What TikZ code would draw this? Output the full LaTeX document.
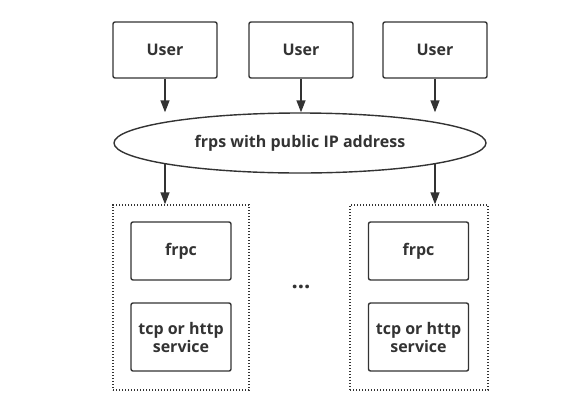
\documentclass[tikz,border=0pt]{standalone}
\usepackage{fontspec}
\setmainfont{Open Sans}
\usetikzlibrary{arrows.meta,shapes.geometric,positioning}
\definecolor{ink}{HTML}{333333}
\begin{document}
\begin{tikzpicture}[x=1pt,y=-1pt,
  every node/.style={text=ink,font=\bfseries\fontsize{16}{18}\selectfont},
  box/.style={draw=ink,line width=1.4pt,rounded corners=2pt,inner sep=0pt,align=center},
  user/.style={box,minimum width=104pt,minimum height=56pt},
  inner/.style={box,minimum width=100pt},
  frps/.style={draw=ink,line width=1.4pt,ellipse,inner sep=0pt,minimum width=372pt,minimum height=60pt},
  host/.style={draw=ink,line width=1.4pt,dash pattern=on 1.4pt off 1.6pt,inner sep=0pt,minimum height=185pt},
  arr/.style={draw=ink,line width=1.4pt,-{Triangle[length=12pt,width=9pt]}}]
\useasboundingbox (0,0) rectangle (572,405);
% users
\node [user] (u1) at (165,50) {User};
\node [user] (u2) at (301,50) {User};
\node [user] (u3) at (435,50) {User};
% server
\node [frps] (s) at (300,143) {frps with public IP address};
% clients
\node [host,minimum width=136pt] (h1) at (181,297.5) {};
\node [host,minimum width=138pt] (h2) at (419,297.5) {};
\node [inner,minimum height=58pt] (c1) at (181,251) {frpc};
\node [inner,minimum height=68pt] (t1) at (181,337) {tcp or http\\service};
\node [inner,minimum height=58pt] (c2) at (418.5,251) {frpc};
\node [inner,minimum height=68pt] (t2) at (418.5,337) {tcp or http\\service};
\node [font=\bfseries\fontsize{22}{22}\selectfont] (dots) at (301,287) {...};
% connectors
\draw[arr] (u1) -- (u1 |- s.north);
\draw[arr] (u2) -- (u2 |- s.north);
\draw[arr] (u3) -- (u3 |- s.north);
\draw[arr] (u1 |- s.189) -- (u1 |- h1.north);
\draw[arr] (u3 |- s.351) -- (u3 |- h2.north);
\end{tikzpicture}
\end{document}
